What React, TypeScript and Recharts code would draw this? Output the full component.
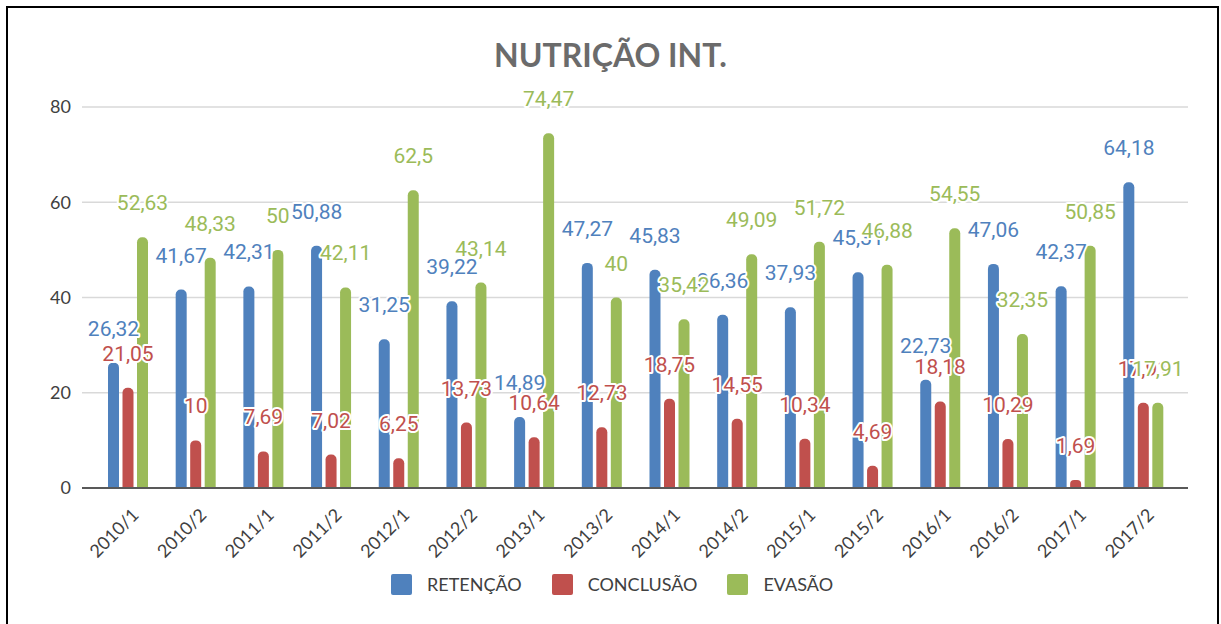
import { Bar, BarChart, CartesianGrid, LabelList, Legend, XAxis, YAxis } from "recharts";

const semesters = [
  "2010/1", "2010/2", "2011/1", "2011/2", "2012/1", "2012/2", "2013/1", "2013/2",
  "2014/1", "2014/2", "2015/1", "2015/2", "2016/1", "2016/2", "2017/1", "2017/2",
];
const retencao = [26.32, 41.67, 42.31, 50.88, 31.25, 39.22, 14.89, 47.27, 45.83, 36.36, 37.93, 45.31, 22.73, 47.06, 42.37, 64.18];
const conclusao = [21.05, 10, 7.69, 7.02, 6.25, 13.73, 10.64, 12.73, 18.75, 14.55, 10.34, 4.69, 18.18, 10.29, 1.69, 17.91];
const evasao = [52.63, 48.33, 50, 42.11, 62.5, 43.14, 74.47, 40, 35.42, 49.09, 51.72, 46.88, 54.55, 32.35, 50.85, 17.91];
const yTicks = [0, 20, 40, 60, 80];

const series = [
  { key: "retencao", name: "RETENÇÃO", color: "#4F81BD" },
  { key: "conclusao", name: "CONCLUSÃO", color: "#C0504D" },
  { key: "evasao", name: "EVASÃO", color: "#9BBB59" },
];

const data = semesters.map((s, i) => ({
  semestre: s,
  retencao: retencao[i],
  conclusao: conclusao[i],
  evasao: evasao[i],
}));

const fmt = (v: number) => String(v).replace(".", ",");

function makeLabel(color: string) {
  return (props: any) => {
    const { x, y, width, value } = props;
    return (
      <text
        x={Number(x) + Number(width) / 2}
        y={Number(y) - 27}
        textAnchor="middle"
        fill={color}
        stroke="#fff"
        strokeWidth={4}
        strokeLinejoin="round"
        paintOrder="stroke"
        fontFamily="Roboto"
        fontSize={21}
      >
        {fmt(value)}
      </text>
    );
  };
}

function SemesterTick(props: any) {
  const { x, y, payload } = props;
  return (
    <g transform={`translate(${x + 12},${y + 20})`}>
      <text textAnchor="end" transform="rotate(-45)" fill="#404040" fontFamily="Lato" fontSize={18}>
        {payload.value}
      </text>
    </g>
  );
}

function ChartLegend() {
  return (
    <div style={{ display: "flex", justifyContent: "center", height: 24, alignItems: "center", paddingLeft: 16, fontFamily: "Lato", fontSize: 18, color: "#404040" }}>
      {series.map((s) => (
        <div key={s.key} style={{ display: "flex", alignItems: "center", margin: "0 15px" }}>
          <span style={{ width: 21, height: 21, background: s.color, borderRadius: 2, marginRight: 15 }} />
          {s.name}
        </div>
      ))}
    </div>
  );
}

export default function App() {
  return (
    <div style={{ position: "absolute", left: 0, top: 0, width: 1221, height: 624, overflow: "hidden", background: "#fff" }}>
      <div style={{ position: "absolute", left: 6, top: 6, width: 1209, height: 700, border: "2px solid #000" }} />
      <div
        style={{
          position: "absolute",
          left: 0,
          top: 39,
          width: 1221,
          textAlign: "center",
          fontFamily: "Lato",
          fontWeight: 700,
          fontSize: 32,
          lineHeight: 1,
          color: "#6b6b6b",
        }}
      >
        NUTRIÇÃO INT.
      </div>
      <div style={{ position: "absolute", left: 0, top: 0 }}>
        <BarChart
          width={1221}
          height={624}
          data={data}
          margin={{ top: 107, right: 33, bottom: 28, left: 20 }}
          barSize={11}
          barGap={3.5}
        >
          <CartesianGrid vertical={false} stroke="#d9d9d9" strokeWidth={1.5} />
          <XAxis
            dataKey="semestre"
            height={84}
            padding={{ left: 12, right: 11 }}
            tickLine={false}
            axisLine={{ stroke: "#595959", strokeWidth: 2 }}
            tick={<SemesterTick />}
            interval={0}
          />
          <YAxis
            width={62}
            domain={[0, 80]}
            ticks={yTicks}
            axisLine={false}
            tickLine={false}
            tickMargin={5}
            tick={{ fill: "#404040", fontFamily: "Lato", fontSize: 18 }}
          />
          <Legend verticalAlign="bottom" content={<ChartLegend />} />
          {series.map((s) => (
            <Bar key={s.key} dataKey={s.key} name={s.name} fill={s.color} radius={[5, 5, 0, 0]} isAnimationActive={false}>
              <LabelList dataKey={s.key} content={makeLabel(s.color)} />
            </Bar>
          ))}
        </BarChart>
      </div>
    </div>
  );
}
